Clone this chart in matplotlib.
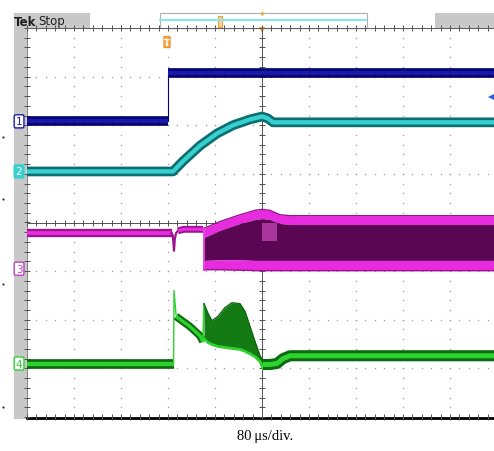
import numpy as np
import matplotlib
matplotlib.use("Agg")
import matplotlib.pyplot as plt
from matplotlib.patches import Rectangle, FancyBboxPatch
from matplotlib import transforms

# time in us (80 us/div, trigger at 0), levels in screen divisions
ch1_t = [-400, -160, -160, 400]
ch1_v = [2.08, 2.08, 3.07, 3.07]

ch2_t = [-400, -151.5, -134.5, -105.5, -76.6, -49.4, -20.4, 0, 10, 18.7, 40, 400]
ch2_v = [1.05, 1.05, 1.26, 1.58, 1.83, 2.00, 2.12, 2.18, 2.14, 2.06, 2.06, 2.06]

ch3_pre_t = [-400, -154]
ch3_pre_v = [-0.21, -0.21]
ch3_dip_t = [-154, -152, -150.5, -149.8, -148.5, -146.4, -143]
ch3_dip_v = [-0.21, -0.26, -0.45, -0.58, -0.35, -0.22, -0.17]
ch3_post_t = [-143, -133, -100.4]
ch3_post_v = [-0.17, -0.14, -0.14]
ch3_env_t = [-98.7, -71.5, -37.4, -11.9, 0, 13.6, 30.6, 47.7, 400]
ch3_top_out = [-0.12, 0.02, 0.16, 0.25, 0.27, 0.25, 0.16, 0.14, 0.14]
ch3_top_in = [-0.31, -0.16, -0.02, 0.06, 0.08, 0.06, -0.02, -0.04, -0.04]
ch3_bot_in = [-0.78, -0.77, -0.77, -0.78, -0.78, -0.78, -0.78, -0.78, -0.78]
ch3_bot_out = [-0.97, -0.97, -0.98, -0.99, -0.99, -0.99, -0.99, -0.99, -0.99]
ch3_patch_t = [0, 25.5]
ch3_patch_lo = [-0.39, -0.39]
ch3_patch_hi = [-0.02, -0.02]

ch4_pre_t = [-400, -150]
ch4_pre_v = [-2.90, -2.90]
ch4_spk1_t = [-150.5, -149.8, -146.4]
ch4_spk1_v = [-2.90, -1.40, -1.89]
ch4_mid_t = [-146.4, -122.6, -105.5, -100.4]
ch4_mid_v = [-1.93, -2.14, -2.33, -2.45]
ch4_spk2_t = [-100.4, -98.7, -96]
ch4_spk2_v = [-2.45, -1.67, -1.80]
ch4_env_t = [-98.7, -91.9, -85.1, -74.9, -63.0, -51.1, -37.4, -28.9, -20.4, -11.9, -3.4, 1.7]
ch4_env_hi = [-1.67, -1.87, -2.02, -1.93, -1.75, -1.65, -1.67, -1.83, -2.14, -2.45, -2.74, -2.84]
ch4_env_lo = [-2.39, -2.47, -2.51, -2.55, -2.57, -2.59, -2.61, -2.65, -2.70, -2.76, -2.86, -3.00]
ch4_post_t = [1.7, 13.6, 25.5, 35.7, 47.7, 64.7, 400]
ch4_post_v = [-2.92, -2.92, -2.90, -2.80, -2.74, -2.74, -2.74]

channel_levels = [2.08, 1.05, -0.95, -2.90]
channel_names = ["1", "2", "3", "4"]

blue, blue_d = "#1a1aa8", "#05056e"
cyan, cyan_d = "#38cfcf", "#0c6e70"
mag, mag_d, purple = "#e82ae0", "#9a1490", "#5a0652"
green, green_d = "#2ed22e", "#0c6a10"

W, H = 494, 452
fig = plt.figure(figsize=(W / 100, H / 100), dpi=100)
fig.patch.set_facecolor("white")

# full-figure pixel layer for the screen furniture
bg = fig.add_axes([0, 0, 1, 1])
bg.set_xlim(0, W)
bg.set_ylim(H, 0)
bg.axis("off")

L, R, T, B = 27, 494, 29, 418
ax = fig.add_axes([L / W, 1 - B / H, (R - L) / W, (B - T) / H])
ax.set_xlim(-400, (R - 262) * 80 / 47)
ax.set_ylim(-4, 4)
ax.axis("off")

# graticule
dots_y = np.arange(-4, 4.01, 0.2)
dots_t = np.arange(-400, 400.1, 16)
for k in range(-4, 5):
    if k == 0:
        continue
    ax.plot([80 * k] * len(dots_y), dots_y, ls="none", marker="s", ms=0.9,
            color="#9a9a9a", mew=0, zorder=1)
for k in range(-3, 4):
    if k == 0:
        continue
    ax.plot(dots_t, [k] * len(dots_t), ls="none", marker="s", ms=0.9,
            color="#9a9a9a", mew=0, zorder=1)
ax.axvline(0, color="#505050", lw=0.7, zorder=1)
ax.axhline(0, color="#505050", lw=0.7, zorder=1)
ax.plot([0] * len(dots_y), dots_y, ls="none", marker="_", ms=4, mew=0.7,
        color="#505050", zorder=1)
ax.plot(dots_t, [0] * len(dots_t), ls="none", marker="|", ms=4, mew=0.7,
        color="#505050", zorder=1)
ax.plot(dots_t, [4] * len(dots_t), ls="none", marker="|", ms=5, mew=0.7,
        color="#505050", zorder=1, clip_on=False)
ax.plot(dots_t, [-4] * len(dots_t), ls="none", marker="|", ms=5, mew=0.7,
        color="#505050", zorder=1, clip_on=False)
ax.plot([-400] * len(dots_y), dots_y, ls="none", marker="_", ms=5, mew=0.7,
        color="#505050", zorder=1, clip_on=False)
ax.axhline(4, color="#606060", lw=0.8, zorder=1)


def band(t, v, c_out, c_in, w=6.0):
    ax.plot(t, v, color=c_out, lw=w, solid_capstyle="butt", zorder=3)
    ax.plot(t, v, color=c_in, lw=w * 0.45, solid_capstyle="butt", zorder=3)


# CH1
ax.plot(ch1_t, ch1_v, color=blue_d, lw=0.8, zorder=3)
band(ch1_t[:2], ch1_v[:2], blue_d, blue, 7)
band(ch1_t[2:], ch1_v[2:], blue_d, blue, 7)

# CH2
band(ch2_t, ch2_v, cyan_d, cyan, 7)

# CH3
band(ch3_pre_t, ch3_pre_v, mag_d, mag, 6)
ax.plot(ch3_dip_t, ch3_dip_v, color=mag_d, lw=1.6, zorder=3)
band(ch3_post_t, ch3_post_v, mag_d, mag, 5)
ax.fill_between(ch3_env_t, ch3_top_in, ch3_top_out, color=mag, lw=0, zorder=3)
ax.fill_between(ch3_env_t, ch3_bot_in, ch3_top_in, color=purple, lw=0, zorder=3)
ax.fill_between(ch3_env_t, ch3_bot_out, ch3_bot_in, color=mag, lw=0, zorder=3)
ax.plot(ch3_env_t, ch3_top_out, color=mag_d, lw=1.0, zorder=3)
ax.plot(ch3_env_t, ch3_bot_out, color=mag_d, lw=1.0, zorder=3)
ax.plot([ch3_env_t[0]] * 2, [ch3_bot_out[0], ch3_top_out[0]], color=mag, lw=1.2, zorder=3)
ax.fill_between(ch3_patch_t, ch3_patch_lo, ch3_patch_hi, color="#a8369c", lw=0, zorder=3)

# CH4
band(ch4_pre_t, ch4_pre_v, green_d, green, 7)
ax.plot(ch4_spk1_t, ch4_spk1_v, color=green, lw=1.0, zorder=3)
band(ch4_mid_t, ch4_mid_v, green_d, green, 5.5)
ax.plot(ch4_spk2_t, ch4_spk2_v, color=green, lw=1.2, zorder=3)
ax.fill_between(ch4_env_t, ch4_env_lo, ch4_env_hi, color="#137a14", lw=0, zorder=3)
ax.plot(ch4_env_t, ch4_env_hi, color=green_d, lw=1.0, zorder=3)
ax.plot(ch4_env_t, ch4_env_lo, color=green, lw=2.0, zorder=3)
band(ch4_post_t, ch4_post_v, green_d, green, 8)

# CH1 trigger level marker on the right edge
ax.plot([392], [2.58], marker="<", ms=6, color="#2a5ae0", mew=0, zorder=4, clip_on=False)

# left gray strip and bottom rule
bg.add_patch(Rectangle((14, 14), 13, 406, color="#c8c8c8", lw=0, zorder=0))
bg.plot([27, 494], [418.5, 418.5], color="black", lw=2.0)
bg.plot([27, 27], [29, 418], color="#707070", lw=0.6)

# channel markers
yx = transforms.blended_transform_factory(ax.transAxes, ax.transData)
styles = [("white", blue), (cyan, "white"), ("white", "#c040c0"), ("white", green)]
edges = [blue, cyan, "#c040c0", green]
for lvl, name, (fc, tc), ec in zip(channel_levels, channel_names, styles, edges):
    ax.text(-0.017, lvl, name, transform=yx, ha="center", va="center",
            fontsize=7.5, color=tc, clip_on=False, zorder=5,
            bbox=dict(boxstyle="round,pad=0.15", fc=fc, ec=ec, lw=1.0))

# stray dots in the margin
for yy in [138, 200, 285, 408]:
    bg.plot([3], [yy], marker="o", ms=1.6, color="#333333", mew=0)

# top status bar
bg.add_patch(Rectangle((14, 14), 76, 15, color="#c8c8c8", lw=0))
bg.add_patch(Rectangle((435, 14), 59, 15, color="#c8c8c8", lw=0))
bg.add_patch(Rectangle((160, 14), 207, 15, fc="white", ec="#b0b0b0", lw=0.8))
bg.plot([160, 366], [21, 21], color="#8ee4e8", lw=1.6)
bg.add_patch(Rectangle((218, 17), 4, 11, fc="#f7d7a8", ec="#f0a030", lw=0.8))
bg.plot([262], [15], marker="v", ms=3, color="#f0a030", mew=0)
bg.plot([262], [31], marker="v", ms=5, color="#f0a030", mew=0)
bg.text(14, 22, "Tek", fontsize=8.5, fontweight="bold", va="center", ha="left",
        color="#202020")
bg.text(38, 22, "Stop", fontsize=8.5, va="center", ha="left", color="#202020")

# trigger position flag
bg.add_patch(FancyBboxPatch((164.5, 38), 5, 10, boxstyle="round,pad=0.6",
                            fc="#f7b050", ec="#f09020", lw=0.8))
bg.text(167, 43, "T", fontsize=6, ha="center", va="center", color="white",
        fontweight="bold")

bg.text(265, 437, "80\u2009\u03bcs/div.", fontsize=10.5, ha="center", va="center",
        family=["Liberation Serif", "DejaVu Serif"])

fig.savefig("out.png", dpi=100)
